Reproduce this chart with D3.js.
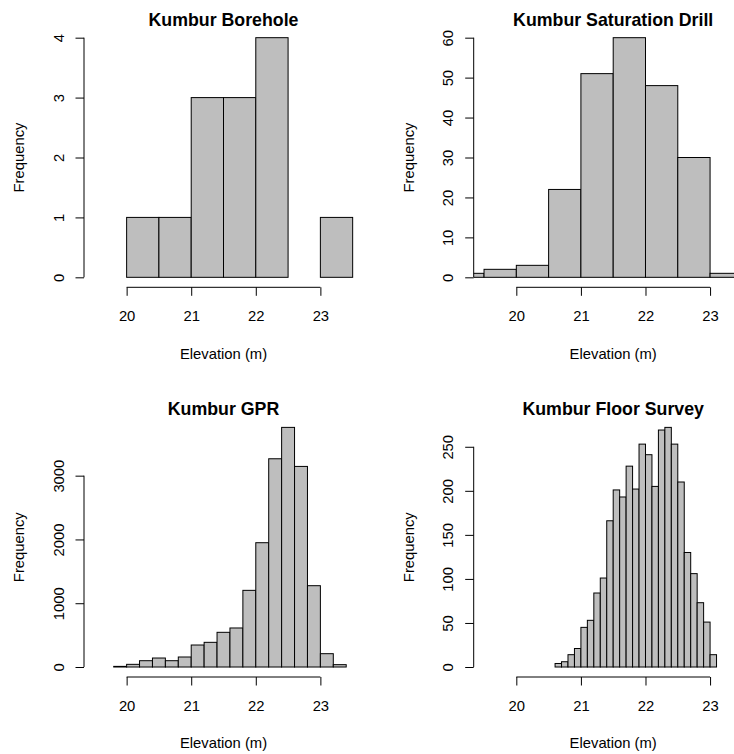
<!DOCTYPE html>
<html>
<head>
<meta charset="utf-8">
<script src="https://cdn.jsdelivr.net/npm/d3@7"></script>
<style>
  html, body { margin: 0; padding: 0; background: #fff; }
  svg { display: block; }
  text { font-family: "Liberation Sans", Arial, Helvetica, sans-serif; fill: #000; }
</style>
</head>
<body>
<svg id="chart" width="734" height="754"></svg>
<script>
// Histogram bin counts for each survey of the Kumbur site
const boreholeStart = 20.0, boreholeWidth = 0.5;
const boreholeCounts = [1, 1, 3, 3, 4, 0, 1];

const drillStart = 19.0, drillWidth = 0.5;
const drillCounts = [1, 2, 3, 22, 51, 60, 48, 30, 1];

const gprStart = 19.8, gprWidth = 0.2;
const gprCounts = [10, 42, 99, 141, 99, 157, 345, 387, 544, 612, 1202, 1949, 3265, 3757, 3145, 1275, 209, 37];

const floorStart = 20.6, floorWidth = 0.1;
const floorCounts = [4, 6, 14, 21, 45, 53, 84, 101, 166, 201, 193, 228, 202, 253, 241, 205, 269, 272, 253, 210, 130, 106, 73, 51, 14];

const titles = ["Kumbur Borehole", "Kumbur Saturation Drill", "Kumbur GPR", "Kumbur Floor Survey"];
const xTicks = [20, 21, 22, 23];
const yTicksBorehole = [0, 1, 2, 3, 4];
const yTicksDrill = [0, 10, 20, 30, 40, 50, 60];
const yTicksGpr = [0, 1000, 2000, 3000];
const yTicksFloor = [0, 50, 100, 150, 200, 250];
const xLabel = "Elevation (m)";
const yLabel = "Frequency";
const xLimits = [19.5, 23.5];

const panels = [
  { title: titles[0], start: boreholeStart, width: boreholeWidth, counts: boreholeCounts, yTicks: yTicksBorehole },
  { title: titles[1], start: drillStart, width: drillWidth, counts: drillCounts, yTicks: yTicksDrill },
  { title: titles[2], start: gprStart, width: gprWidth, counts: gprCounts, yTicks: yTicksGpr },
  { title: titles[3], start: floorStart, width: floorWidth, counts: floorCounts, yTicks: yTicksFloor }
];

// Layout of one figure cell (2 x 2 grid)
const cell = 389.7;
const plot = { left: 84, right: 363, top: 28.1, bottom: 286.9 };
const tickLen = 8.5;
const fontSize = 14.8;

const svg = d3.select("#chart");

// R-style 4% axis extension
function extend(lo, hi) {
  const d = (hi - lo) * 0.04;
  return [lo - d, hi + d];
}

panels.forEach((p, i) => {
  const col = i % 2, row = Math.floor(i / 2);
  const g = svg.append("g").attr("transform", `translate(${col * cell},${row * cell})`);

  const x = d3.scaleLinear().domain(extend(xLimits[0], xLimits[1])).range([plot.left, plot.right]);
  const yMax = d3.max(p.counts);
  const y = d3.scaleLinear().domain(extend(0, yMax)).range([plot.bottom, plot.top]);

  const clipId = "clip" + i;
  g.append("clipPath").attr("id", clipId)
    .append("rect")
    .attr("x", plot.left).attr("y", plot.top)
    .attr("width", plot.right - plot.left).attr("height", plot.bottom - plot.top);

  const bins = p.counts.map((c, k) => ({ x0: p.start + k * p.width, x1: p.start + (k + 1) * p.width, n: c }));

  g.append("g").attr("clip-path", `url(#${clipId})`)
    .selectAll("rect").data(bins).join("rect")
    .attr("x", d => x(d.x0))
    .attr("width", d => x(d.x1) - x(d.x0))
    .attr("y", d => y(d.n))
    .attr("height", d => y(0) - y(d.n))
    .attr("fill", "#bebebe")
    .attr("stroke", "#000")
    .attr("stroke-width", 1);

  // x axis
  const xAxis = d3.axisBottom(x).tickValues(xTicks).tickSize(tickLen).tickSizeOuter(0).tickPadding(0).tickFormat(d3.format("d"));
  const gx = g.append("g").attr("transform", `translate(0,${plot.bottom + 0.4})`).call(xAxis);
  gx.select(".domain").remove();
  gx.append("line")
    .attr("x1", x(xTicks[0])).attr("x2", x(xTicks[xTicks.length - 1]))
    .attr("stroke", "#000");
  gx.selectAll(".tick line").attr("stroke", "#000");
  gx.selectAll(".tick text")
    .attr("y", 321.5 - plot.bottom - 0.4).attr("dy", null)
    .style("font-size", fontSize + "px")
    .style("font-family", '"Liberation Sans", Arial, Helvetica, sans-serif')
    .attr("fill", "#000");

  // y axis
  const yAxis = d3.axisLeft(y).tickValues(p.yTicks).tickSize(tickLen).tickSizeOuter(0).tickFormat(d3.format("d"));
  const gy = g.append("g").attr("transform", `translate(${plot.left},0)`).call(yAxis);
  gy.select(".domain").remove();
  gy.append("line")
    .attr("y1", y(p.yTicks[0])).attr("y2", y(p.yTicks[p.yTicks.length - 1]))
    .attr("stroke", "#000");
  gy.selectAll(".tick line").attr("stroke", "#000");
  gy.selectAll(".tick text")
    .attr("x", null).attr("dy", null)
    .attr("text-anchor", "middle")
    .attr("transform", `translate(${63.5 - plot.left},0) rotate(-90)`)
    .style("font-size", fontSize + "px")
    .style("font-family", '"Liberation Sans", Arial, Helvetica, sans-serif')
    .attr("fill", "#000");

  const cx = (plot.left + plot.right) / 2;
  const cy = (plot.top + plot.bottom) / 2;

  g.append("text")
    .attr("x", cx).attr("y", 25.7)
    .attr("text-anchor", "middle")
    .style("font-size", (fontSize * 1.2) + "px")
    .style("font-weight", "bold")
    .text(p.title);

  g.append("text")
    .attr("x", cx).attr("y", 358.5)
    .attr("text-anchor", "middle")
    .style("font-size", fontSize + "px")
    .text(xLabel);

  g.append("text")
    .attr("transform", `translate(24,${cy}) rotate(-90)`)
    .attr("text-anchor", "middle")
    .style("font-size", fontSize + "px")
    .text(yLabel);
});
</script>
</body>
</html>
